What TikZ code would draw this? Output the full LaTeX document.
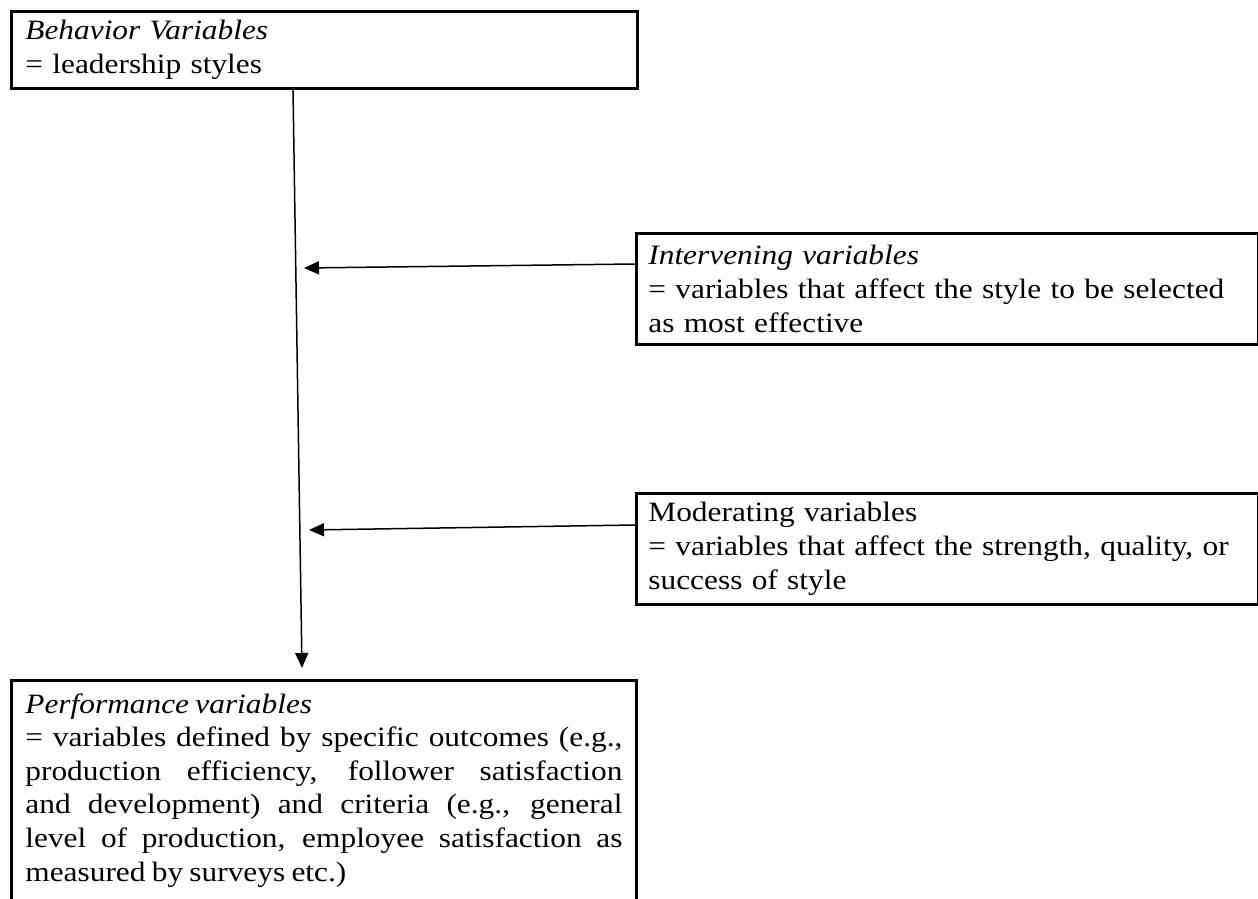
\documentclass[tikz,border=0pt]{standalone}
\usepackage{fontspec}
\setmainfont[FakeStretch=1.12,WordSpace=0.8]{Liberation Serif}
\usetikzlibrary{positioning,arrows.meta}

\begin{document}
\begin{tikzpicture}[x=0.5pt,y=-0.5pt,font=\fontsize{14}{16.8}\selectfont,>={Triangle[length=7.5pt,width=6.5pt]},
  box/.style ={draw,line width=1.4pt,anchor=north west,inner xsep=7pt,inner ysep=4.5pt},
  bvbox/.style={box,align=left,text width=299pt,minimum height=36.5pt},
  side/.style ={box,align=left,text width=299pt,minimum height=55.5pt,inner xsep=6pt},
  pvbox/.style={box,align=justify,text width=298.5pt,inner ysep=6.5pt},
  flow/.style={->,line width=0.75pt}]

\useasboundingbox (0,0) rectangle (1258,899);
\clip (0,0) rectangle (1258,899);

\node[bvbox] (bv) at (10,10)  {\textit{Behavior Variables}\\= leadership styles};
\node[side]  (iv) at (635,232) {\textit{Intervening variables}\\= variables that affect the style to be selected\\as most effective};
\node[side]  (mv) at (635,492) {Moderating variables\\= variables that affect the strength, quality, or\\success of style};
\node[pvbox] (pv) at (10,679) {\textit{Performance variables}\\= variables defined by specific outcomes (e.g.,\linebreak production efficiency, follower satisfaction\linebreak and development) and criteria (e.g., general\linebreak level of production, employee satisfaction as\linebreak measured by surveys etc.)\par\rule{0pt}{20pt}};

\coordinate (ivTip) at (304,268);
\coordinate (mvTip) at (309,530);

\draw[flow] ([xshift=141.5pt]bv.south west) -- ([xshift=146pt,yshift=5.5pt]pv.north west);
\draw[flow] ([yshift=-16pt]iv.north west) -- (ivTip);
\draw[flow] ([yshift=-16.5pt]mv.north west) -- (mvTip);
\end{tikzpicture}
\end{document}
